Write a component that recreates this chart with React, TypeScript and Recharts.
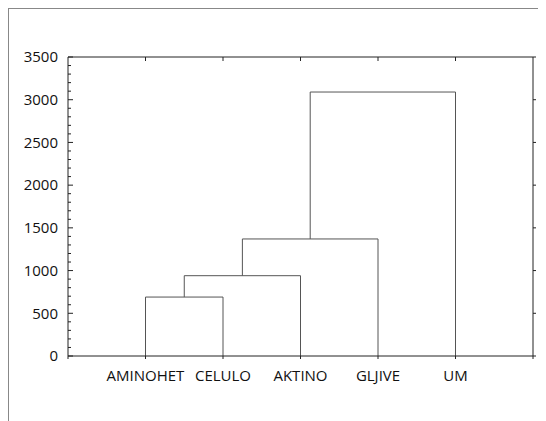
import { LineChart, Line, XAxis, YAxis } from 'recharts'

const leaves = ['AMINOHET', 'CELULO', 'AKTINO', 'GLJIVE', 'UM']
// each merge joins the current cluster with the next leaf
const mergeHeights = [690, 940, 1370, 3090]
const yMajorTicks = [0, 500, 1000, 1500, 2000, 2500, 3000, 3500]
const yMinorTicks = Array.from({ length: 36 }, (_, i) => i * 100)

const leafX = leaves.map((_, i) => i + 1)

function buildLinks() {
    const links: { x: number; y: number }[][] = []
    let cx = leafX[0]
    let cy = 0
    mergeHeights.forEach((h, i) => {
        const nx = leafX[i + 1]
        links.push([
            { x: cx, y: cy },
            { x: cx, y: h },
            { x: nx, y: h },
            { x: nx, y: 0 },
        ])
        cx = (cx + nx) / 2
        cy = h
    })
    return links
}

const links = buildLinks()
const FONT = '"Open Sans", sans-serif'
const AXIS = '#222'
const GAP = 10

function LeftTick(props: any) {
    const { x, y, payload } = props
    const v = payload.value as number
    const major = v % 500 === 0
    const ax = x + GAP
    return (
        <g>
            <line x1={ax} x2={ax + (major ? 5 : 3)} y1={y} y2={y} stroke={AXIS} />
            {major && (
                <text x={x} y={y} dy="0.355em" textAnchor="end" fontSize={15} fill="#111" fontFamily={FONT}>
                    {v}
                </text>
            )}
        </g>
    )
}

export default function App() {
    const tickStyle = { fontSize: 15, fill: '#111', fontFamily: FONT }
    return (
        <div style={{ borderLeft: '1px solid #888', borderTop: '1px solid #888', width: 537, height: 412 }}>
            <LineChart width={537} height={412} margin={{ top: 47, right: 12, bottom: 25, left: 9 }}>
                <XAxis
                    type="number"
                    dataKey="x"
                    domain={[0, 6]}
                    ticks={[0, 1, 2, 3, 4, 5, 6]}
                    tickFormatter={(v: number) => leaves[v - 1] ?? ''}
                    height={40}
                    tickSize={3}
                    tickMargin={11}
                    stroke={AXIS}
                    tick={tickStyle}
                    interval={0}
                />
                <XAxis
                    xAxisId="top"
                    orientation="top"
                    type="number"
                    dataKey="x"
                    domain={[0, 6]}
                    ticks={leafX}
                    height={1}
                    tickSize={-4}
                    stroke={AXIS}
                    tick={() => <g />}
                    interval={0}
                />
                <YAxis
                    type="number"
                    domain={[0, 3500]}
                    ticks={yMinorTicks}
                    width={50}
                    tickSize={0}
                    tickMargin={GAP}
                    tickLine={false}
                    stroke={AXIS}
                    tick={LeftTick}
                    interval={0}
                />
                <YAxis
                    yAxisId="right"
                    orientation="right"
                    type="number"
                    domain={[0, 3500]}
                    ticks={yMajorTicks}
                    width={1}
                    tickSize={3}
                    stroke={AXIS}
                    tick={() => <g />}
                    interval={0}
                />
                {links.map((d, i) => (
                    <Line
                        key={i}
                        data={d}
                        dataKey="y"
                        type="linear"
                        stroke="#555"
                        strokeWidth={1}
                        dot={false}
                        isAnimationActive={false}
                    />
                ))}
                <Line
                    data={links[0]}
                    dataKey="y"
                    xAxisId="top"
                    yAxisId="right"
                    stroke="none"
                    dot={false}
                    activeDot={false}
                    isAnimationActive={false}
                />
            </LineChart>
        </div>
    )
}
